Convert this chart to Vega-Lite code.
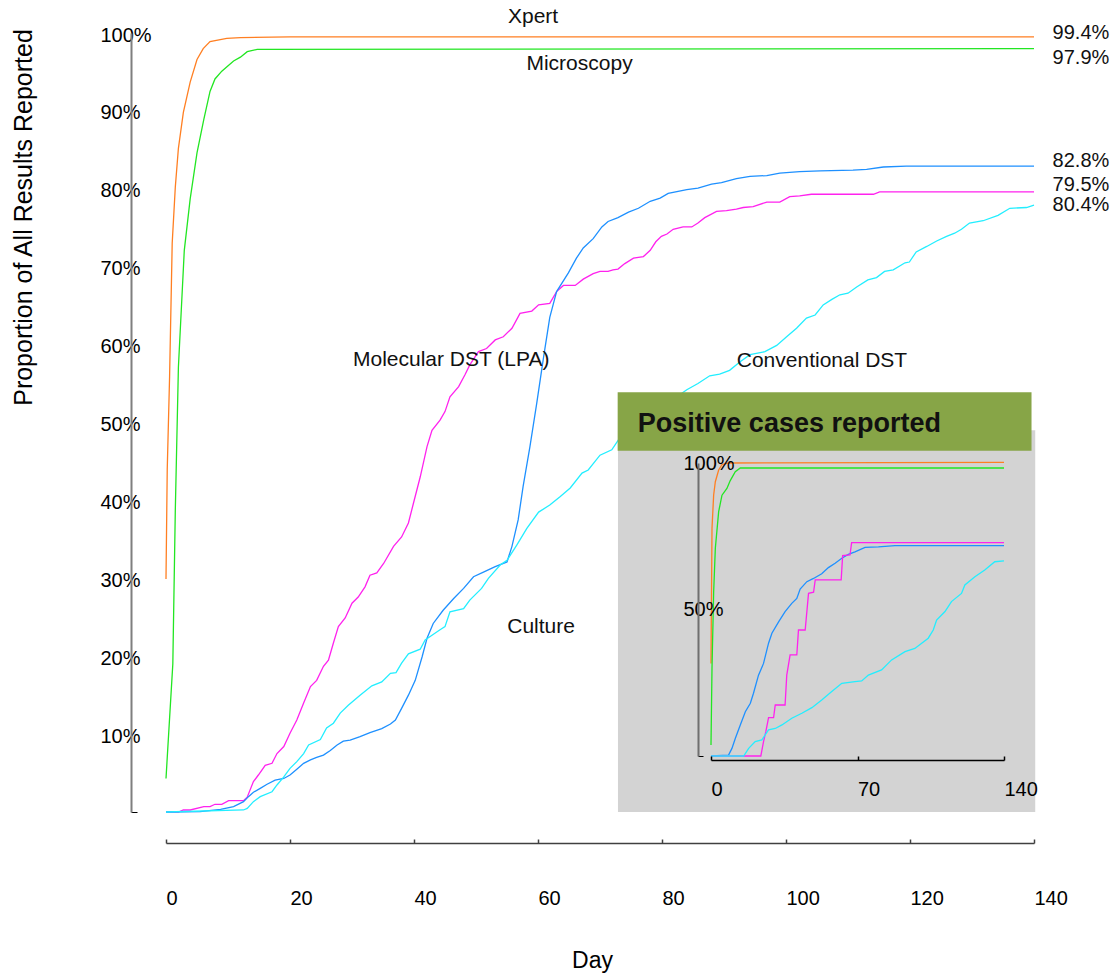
{
  "$schema": "https://vega.github.io/schema/vega-lite/v6.json",
  "width": 868,
  "height": 779,
  "autosize": {"type": "none"},
  "padding": {"left": 166, "top": 33, "right": 81, "bottom": 161},
  "background": "white",
  "config": {
    "view": {"stroke": null},
    "font": "Liberation Sans",
    "axis": {"grid": false, "labelFont": "Liberation Sans", "titleFont": "Liberation Sans", "labelColor": "#000", "titleColor": "#000", "labelFlush": false, "labelOverlap": false}
  },
  "datasets": {
    "main": [
      {"s":"Xpert","d":0,"v":0.299},{"s":"Xpert","d":0.2,"v":0.44},{"s":"Xpert","d":0.58,"v":0.559},{"s":"Xpert","d":1.0,"v":0.73},{"s":"Xpert","d":1.5,"v":0.802},{"s":"Xpert","d":2.0,"v":0.852},{"s":"Xpert","d":2.8,"v":0.898},{"s":"Xpert","d":3.9,"v":0.937},{"s":"Xpert","d":5.0,"v":0.966},{"s":"Xpert","d":6.0,"v":0.98},{"s":"Xpert","d":7.1,"v":0.989},{"s":"Xpert","d":9.8,"v":0.993},{"s":"Xpert","d":12,"v":0.994},{"s":"Xpert","d":20,"v":0.995},{"s":"Xpert","d":140,"v":0.995},
      {"s":"Microscopy","d":0,"v":0.043},{"s":"Microscopy","d":1.1,"v":0.19},{"s":"Microscopy","d":1.5,"v":0.387},{"s":"Microscopy","d":2.0,"v":0.571},{"s":"Microscopy","d":2.95,"v":0.721},{"s":"Microscopy","d":3.9,"v":0.787},{"s":"Microscopy","d":5.0,"v":0.846},{"s":"Microscopy","d":6.1,"v":0.889},{"s":"Microscopy","d":7.1,"v":0.925},{"s":"Microscopy","d":7.9,"v":0.941},{"s":"Microscopy","d":9.0,"v":0.951},{"s":"Microscopy","d":10.9,"v":0.964},{"s":"Microscopy","d":12.0,"v":0.969},{"s":"Microscopy","d":13.1,"v":0.976},{"s":"Microscopy","d":14.7,"v":0.979},{"s":"Microscopy","d":140,"v":0.98},
      {"s":"Molecular DST (LPA)","d":0,"v":0},{"s":"Molecular DST (LPA)","d":2.0,"v":0},{"s":"Molecular DST (LPA)","d":2.8,"v":0.0026},{"s":"Molecular DST (LPA)","d":3.9,"v":0.0026},{"s":"Molecular DST (LPA)","d":6.1,"v":0.0068},{"s":"Molecular DST (LPA)","d":7.1,"v":0.0068},{"s":"Molecular DST (LPA)","d":7.9,"v":0.0099},{"s":"Molecular DST (LPA)","d":9.0,"v":0.0099},{"s":"Molecular DST (LPA)","d":10.1,"v":0.0145},{"s":"Molecular DST (LPA)","d":12.5,"v":0.0145},{"s":"Molecular DST (LPA)","d":13.1,"v":0.019},{"s":"Molecular DST (LPA)","d":14.1,"v":0.039},{"s":"Molecular DST (LPA)","d":14.9,"v":0.0475},{"s":"Molecular DST (LPA)","d":16.0,"v":0.06},{"s":"Molecular DST (LPA)","d":17.1,"v":0.0625},{"s":"Molecular DST (LPA)","d":17.9,"v":0.075},{"s":"Molecular DST (LPA)","d":19.0,"v":0.084},{"s":"Molecular DST (LPA)","d":20.0,"v":0.101},{"s":"Molecular DST (LPA)","d":21.1,"v":0.118},{"s":"Molecular DST (LPA)","d":22.2,"v":0.14},{"s":"Molecular DST (LPA)","d":23.3,"v":0.161},{"s":"Molecular DST (LPA)","d":24.3,"v":0.169},{"s":"Molecular DST (LPA)","d":25.4,"v":0.187},{"s":"Molecular DST (LPA)","d":26.2,"v":0.195},{"s":"Molecular DST (LPA)","d":27.0,"v":0.217},{"s":"Molecular DST (LPA)","d":27.8,"v":0.238},{"s":"Molecular DST (LPA)","d":28.9,"v":0.249},{"s":"Molecular DST (LPA)","d":30.0,"v":0.268},{"s":"Molecular DST (LPA)","d":31.0,"v":0.276},{"s":"Molecular DST (LPA)","d":32.1,"v":0.289},{"s":"Molecular DST (LPA)","d":32.9,"v":0.304},{"s":"Molecular DST (LPA)","d":34.0,"v":0.307},{"s":"Molecular DST (LPA)","d":35.1,"v":0.319},{"s":"Molecular DST (LPA)","d":36.7,"v":0.341},{"s":"Molecular DST (LPA)","d":38.0,"v":0.353},{"s":"Molecular DST (LPA)","d":39.1,"v":0.371},{"s":"Molecular DST (LPA)","d":39.9,"v":0.396},{"s":"Molecular DST (LPA)","d":41.0,"v":0.43},{"s":"Molecular DST (LPA)","d":42.1,"v":0.469},{"s":"Molecular DST (LPA)","d":42.9,"v":0.49},{"s":"Molecular DST (LPA)","d":44.2,"v":0.503},{"s":"Molecular DST (LPA)","d":45.0,"v":0.514},{"s":"Molecular DST (LPA)","d":45.8,"v":0.533},{"s":"Molecular DST (LPA)","d":47.2,"v":0.546},{"s":"Molecular DST (LPA)","d":48.2,"v":0.561},{"s":"Molecular DST (LPA)","d":49.0,"v":0.574},{"s":"Molecular DST (LPA)","d":50.4,"v":0.591},{"s":"Molecular DST (LPA)","d":51.7,"v":0.595},{"s":"Molecular DST (LPA)","d":53.1,"v":0.606},{"s":"Molecular DST (LPA)","d":54.4,"v":0.61},{"s":"Molecular DST (LPA)","d":55.8,"v":0.621},{"s":"Molecular DST (LPA)","d":57.1,"v":0.64},{"s":"Molecular DST (LPA)","d":59.0,"v":0.643},{"s":"Molecular DST (LPA)","d":60.1,"v":0.651},{"s":"Molecular DST (LPA)","d":61.9,"v":0.653},{"s":"Molecular DST (LPA)","d":63.0,"v":0.668},{"s":"Molecular DST (LPA)","d":64.1,"v":0.676},{"s":"Molecular DST (LPA)","d":66.0,"v":0.676},{"s":"Molecular DST (LPA)","d":67.3,"v":0.684},{"s":"Molecular DST (LPA)","d":68.9,"v":0.691},{"s":"Molecular DST (LPA)","d":70.0,"v":0.694},{"s":"Molecular DST (LPA)","d":71.3,"v":0.694},{"s":"Molecular DST (LPA)","d":72.1,"v":0.696},{"s":"Molecular DST (LPA)","d":72.9,"v":0.697},{"s":"Molecular DST (LPA)","d":74.0,"v":0.704},{"s":"Molecular DST (LPA)","d":75.4,"v":0.711},{"s":"Molecular DST (LPA)","d":77.0,"v":0.713},{"s":"Molecular DST (LPA)","d":78.1,"v":0.721},{"s":"Molecular DST (LPA)","d":79.0,"v":0.732},{"s":"Molecular DST (LPA)","d":79.9,"v":0.739},{"s":"Molecular DST (LPA)","d":80.8,"v":0.742},{"s":"Molecular DST (LPA)","d":81.8,"v":0.748},{"s":"Molecular DST (LPA)","d":83.4,"v":0.751},{"s":"Molecular DST (LPA)","d":84.8,"v":0.751},{"s":"Molecular DST (LPA)","d":85.8,"v":0.756},{"s":"Molecular DST (LPA)","d":86.9,"v":0.763},{"s":"Molecular DST (LPA)","d":88.8,"v":0.771},{"s":"Molecular DST (LPA)","d":90.4,"v":0.772},{"s":"Molecular DST (LPA)","d":92.0,"v":0.774},{"s":"Molecular DST (LPA)","d":93.1,"v":0.776},{"s":"Molecular DST (LPA)","d":94.7,"v":0.777},{"s":"Molecular DST (LPA)","d":96.9,"v":0.783},{"s":"Molecular DST (LPA)","d":99.0,"v":0.783},{"s":"Molecular DST (LPA)","d":100.6,"v":0.79},{"s":"Molecular DST (LPA)","d":102.2,"v":0.791},{"s":"Molecular DST (LPA)","d":104.1,"v":0.793},{"s":"Molecular DST (LPA)","d":114.1,"v":0.793},{"s":"Molecular DST (LPA)","d":115.1,"v":0.796},{"s":"Molecular DST (LPA)","d":140,"v":0.796},
      {"s":"Culture","d":0,"v":0},{"s":"Culture","d":5.5,"v":0.0005},{"s":"Culture","d":8.8,"v":0.0034},{"s":"Culture","d":10.9,"v":0.0068},{"s":"Culture","d":12.5,"v":0.0133},{"s":"Culture","d":13.3,"v":0.0197},{"s":"Culture","d":14.1,"v":0.0253},{"s":"Culture","d":15.2,"v":0.0304},{"s":"Culture","d":16.3,"v":0.0356},{"s":"Culture","d":17.6,"v":0.041},{"s":"Culture","d":19.0,"v":0.043},{"s":"Culture","d":20.0,"v":0.0475},{"s":"Culture","d":21.1,"v":0.055},{"s":"Culture","d":22.2,"v":0.0625},{"s":"Culture","d":23.3,"v":0.0668},{"s":"Culture","d":24.3,"v":0.07},{"s":"Culture","d":25.4,"v":0.073},{"s":"Culture","d":26.5,"v":0.079},{"s":"Culture","d":27.6,"v":0.086},{"s":"Culture","d":28.6,"v":0.091},{"s":"Culture","d":29.7,"v":0.0924},{"s":"Culture","d":31.3,"v":0.0967},{"s":"Culture","d":32.9,"v":0.102},{"s":"Culture","d":34.8,"v":0.107},{"s":"Culture","d":36.2,"v":0.113},{"s":"Culture","d":37.0,"v":0.118},{"s":"Culture","d":38.0,"v":0.133},{"s":"Culture","d":39.1,"v":0.15},{"s":"Culture","d":40.2,"v":0.169},{"s":"Culture","d":41.3,"v":0.199},{"s":"Culture","d":42.1,"v":0.223},{"s":"Culture","d":43.1,"v":0.242},{"s":"Culture","d":44.7,"v":0.259},{"s":"Culture","d":46.4,"v":0.274},{"s":"Culture","d":48.0,"v":0.287},{"s":"Culture","d":49.6,"v":0.302},{"s":"Culture","d":51.2,"v":0.308},{"s":"Culture","d":53.1,"v":0.315},{"s":"Culture","d":55.0,"v":0.321},{"s":"Culture","d":55.8,"v":0.341},{"s":"Culture","d":56.8,"v":0.375},{"s":"Culture","d":57.6,"v":0.418},{"s":"Culture","d":58.7,"v":0.469},{"s":"Culture","d":59.8,"v":0.525},{"s":"Culture","d":60.9,"v":0.584},{"s":"Culture","d":61.9,"v":0.635},{"s":"Culture","d":63.0,"v":0.668},{"s":"Culture","d":64.9,"v":0.692},{"s":"Culture","d":66.2,"v":0.711},{"s":"Culture","d":67.3,"v":0.724},{"s":"Culture","d":68.9,"v":0.736},{"s":"Culture","d":70.3,"v":0.751},{"s":"Culture","d":71.3,"v":0.758},{"s":"Culture","d":72.9,"v":0.763},{"s":"Culture","d":74.6,"v":0.77},{"s":"Culture","d":76.2,"v":0.775},{"s":"Culture","d":78.1,"v":0.784},{"s":"Culture","d":79.7,"v":0.788},{"s":"Culture","d":81.0,"v":0.794},{"s":"Culture","d":84.0,"v":0.799},{"s":"Culture","d":85.8,"v":0.801},{"s":"Culture","d":88.0,"v":0.806},{"s":"Culture","d":89.6,"v":0.808},{"s":"Culture","d":92.0,"v":0.813},{"s":"Culture","d":94.2,"v":0.816},{"s":"Culture","d":96.9,"v":0.817},{"s":"Culture","d":99.0,"v":0.82},{"s":"Culture","d":102.2,"v":0.822},{"s":"Culture","d":105.5,"v":0.823},{"s":"Culture","d":110.8,"v":0.824},{"s":"Culture","d":113.0,"v":0.825},{"s":"Culture","d":115.7,"v":0.828},{"s":"Culture","d":119.4,"v":0.829},{"s":"Culture","d":140,"v":0.829},
      {"s":"Conventional DST","d":0,"v":0},{"s":"Conventional DST","d":12.5,"v":0.0026},{"s":"Conventional DST","d":13.1,"v":0.0047},{"s":"Conventional DST","d":14.1,"v":0.0133},{"s":"Conventional DST","d":15.2,"v":0.0197},{"s":"Conventional DST","d":17.1,"v":0.026},{"s":"Conventional DST","d":17.9,"v":0.0347},{"s":"Conventional DST","d":19.0,"v":0.045},{"s":"Conventional DST","d":20.0,"v":0.056},{"s":"Conventional DST","d":21.1,"v":0.0646},{"s":"Conventional DST","d":22.2,"v":0.075},{"s":"Conventional DST","d":23.0,"v":0.086},{"s":"Conventional DST","d":24.9,"v":0.093},{"s":"Conventional DST","d":25.9,"v":0.108},{"s":"Conventional DST","d":27.0,"v":0.114},{"s":"Conventional DST","d":28.1,"v":0.127},{"s":"Conventional DST","d":29.4,"v":0.137},{"s":"Conventional DST","d":31.3,"v":0.15},{"s":"Conventional DST","d":33.2,"v":0.162},{"s":"Conventional DST","d":34.8,"v":0.167},{"s":"Conventional DST","d":36.2,"v":0.178},{"s":"Conventional DST","d":37.1,"v":0.179},{"s":"Conventional DST","d":38.0,"v":0.191},{"s":"Conventional DST","d":39.1,"v":0.203},{"s":"Conventional DST","d":41.0,"v":0.209},{"s":"Conventional DST","d":41.8,"v":0.221},{"s":"Conventional DST","d":42.9,"v":0.227},{"s":"Conventional DST","d":44.2,"v":0.234},{"s":"Conventional DST","d":45.0,"v":0.238},{"s":"Conventional DST","d":45.8,"v":0.257},{"s":"Conventional DST","d":48.0,"v":0.261},{"s":"Conventional DST","d":49.0,"v":0.272},{"s":"Conventional DST","d":50.9,"v":0.287},{"s":"Conventional DST","d":52.0,"v":0.3},{"s":"Conventional DST","d":53.9,"v":0.317},{"s":"Conventional DST","d":55.0,"v":0.323},{"s":"Conventional DST","d":56.6,"v":0.343},{"s":"Conventional DST","d":58.2,"v":0.364},{"s":"Conventional DST","d":60.1,"v":0.385},{"s":"Conventional DST","d":61.9,"v":0.394},{"s":"Conventional DST","d":63.6,"v":0.405},{"s":"Conventional DST","d":65.2,"v":0.416},{"s":"Conventional DST","d":67.1,"v":0.435},{"s":"Conventional DST","d":68.1,"v":0.439},{"s":"Conventional DST","d":70.0,"v":0.458},{"s":"Conventional DST","d":71.9,"v":0.465},{"s":"Conventional DST","d":73.0,"v":0.478},{"s":"Conventional DST","d":73.6,"v":0.484},{"s":"Conventional DST","d":84.0,"v":0.542},{"s":"Conventional DST","d":85.8,"v":0.55},{"s":"Conventional DST","d":87.7,"v":0.56},{"s":"Conventional DST","d":89.3,"v":0.562},{"s":"Conventional DST","d":90.9,"v":0.567},{"s":"Conventional DST","d":92.6,"v":0.578},{"s":"Conventional DST","d":94.2,"v":0.587},{"s":"Conventional DST","d":96.6,"v":0.591},{"s":"Conventional DST","d":98.5,"v":0.599},{"s":"Conventional DST","d":100.1,"v":0.61},{"s":"Conventional DST","d":101.7,"v":0.621},{"s":"Conventional DST","d":103.3,"v":0.634},{"s":"Conventional DST","d":104.7,"v":0.638},{"s":"Conventional DST","d":106.0,"v":0.651},{"s":"Conventional DST","d":107.4,"v":0.658},{"s":"Conventional DST","d":108.7,"v":0.664},{"s":"Conventional DST","d":110.0,"v":0.666},{"s":"Conventional DST","d":111.4,"v":0.674},{"s":"Conventional DST","d":113.2,"v":0.683},{"s":"Conventional DST","d":114.6,"v":0.686},{"s":"Conventional DST","d":115.9,"v":0.694},{"s":"Conventional DST","d":117.3,"v":0.696},{"s":"Conventional DST","d":119.2,"v":0.705},{"s":"Conventional DST","d":119.9,"v":0.706},{"s":"Conventional DST","d":121.0,"v":0.719},{"s":"Conventional DST","d":122.7,"v":0.726},{"s":"Conventional DST","d":124.3,"v":0.733},{"s":"Conventional DST","d":125.9,"v":0.739},{"s":"Conventional DST","d":127.2,"v":0.743},{"s":"Conventional DST","d":128.3,"v":0.748},{"s":"Conventional DST","d":129.6,"v":0.756},{"s":"Conventional DST","d":131.8,"v":0.759},{"s":"Conventional DST","d":134.2,"v":0.766},{"s":"Conventional DST","d":136.1,"v":0.775},{"s":"Conventional DST","d":138.8,"v":0.776},{"s":"Conventional DST","d":140,"v":0.779}
    ],
    "inset": [
      {"s":"Xpert","d":0,"v":0.316},{"s":"Xpert","d":0.48,"v":0.777},{"s":"Xpert","d":1.27,"v":0.891},{"s":"Xpert","d":2.07,"v":0.936},{"s":"Xpert","d":3.66,"v":0.976},{"s":"Xpert","d":5.25,"v":0.995},{"s":"Xpert","d":8.4,"v":1.0},{"s":"Xpert","d":140,"v":1.002},
      {"s":"Microscopy","d":0,"v":0.0375},{"s":"Microscopy","d":0.48,"v":0.3},{"s":"Microscopy","d":1.27,"v":0.56},{"s":"Microscopy","d":2.07,"v":0.709},{"s":"Microscopy","d":3.66,"v":0.834},{"s":"Microscopy","d":5.25,"v":0.89},{"s":"Microscopy","d":7.6,"v":0.913},{"s":"Microscopy","d":9.2,"v":0.94},{"s":"Microscopy","d":11.6,"v":0.97},{"s":"Microscopy","d":14,"v":0.983},{"s":"Microscopy","d":140,"v":0.983},
      {"s":"Culture","d":0,"v":0},{"s":"Culture","d":8.4,"v":0.003},{"s":"Culture","d":10.0,"v":0.026},{"s":"Culture","d":11.6,"v":0.06},{"s":"Culture","d":14.0,"v":0.106},{"s":"Culture","d":16.4,"v":0.151},{"s":"Culture","d":18.8,"v":0.18},{"s":"Culture","d":20.3,"v":0.214},{"s":"Culture","d":22.7,"v":0.276},{"s":"Culture","d":25.1,"v":0.316},{"s":"Culture","d":27.5,"v":0.385},{"s":"Culture","d":29.1,"v":0.419},{"s":"Culture","d":32.3,"v":0.458},{"s":"Culture","d":35.4,"v":0.493},{"s":"Culture","d":38.6,"v":0.521},{"s":"Culture","d":41.0,"v":0.538},{"s":"Culture","d":42.6,"v":0.57},{"s":"Culture","d":45.8,"v":0.595},{"s":"Culture","d":49.0,"v":0.606},{"s":"Culture","d":52.9,"v":0.622},{"s":"Culture","d":56.1,"v":0.643},{"s":"Culture","d":59.3,"v":0.658},{"s":"Culture","d":62.5,"v":0.675},{"s":"Culture","d":65.6,"v":0.688},{"s":"Culture","d":68.8,"v":0.697},{"s":"Culture","d":73.6,"v":0.712},{"s":"Culture","d":80.0,"v":0.714},{"s":"Culture","d":87.9,"v":0.718},{"s":"Culture","d":140,"v":0.718},
      {"s":"Molecular DST (LPA)","d":0,"v":0},{"s":"Molecular DST (LPA)","d":23.8,"v":0},{"s":"Molecular DST (LPA)","d":25.1,"v":0.049},{"s":"Molecular DST (LPA)","d":26.2,"v":0.083},{"s":"Molecular DST (LPA)","d":27.5,"v":0.131},{"s":"Molecular DST (LPA)","d":29.9,"v":0.131},{"s":"Molecular DST (LPA)","d":30.7,"v":0.174},{"s":"Molecular DST (LPA)","d":35.4,"v":0.174},{"s":"Molecular DST (LPA)","d":36.2,"v":0.276},{"s":"Molecular DST (LPA)","d":37.8,"v":0.345},{"s":"Molecular DST (LPA)","d":41.0,"v":0.345},{"s":"Molecular DST (LPA)","d":41.8,"v":0.43},{"s":"Molecular DST (LPA)","d":45.0,"v":0.43},{"s":"Molecular DST (LPA)","d":46.6,"v":0.555},{"s":"Molecular DST (LPA)","d":49.0,"v":0.559},{"s":"Molecular DST (LPA)","d":49.8,"v":0.601},{"s":"Molecular DST (LPA)","d":62.2,"v":0.601},{"s":"Molecular DST (LPA)","d":62.9,"v":0.684},{"s":"Molecular DST (LPA)","d":66.4,"v":0.686},{"s":"Molecular DST (LPA)","d":67.2,"v":0.728},{"s":"Molecular DST (LPA)","d":140,"v":0.728},
      {"s":"Conventional DST","d":0,"v":0},{"s":"Conventional DST","d":15.6,"v":0},{"s":"Conventional DST","d":18.0,"v":0.026},{"s":"Conventional DST","d":21.1,"v":0.049},{"s":"Conventional DST","d":24.3,"v":0.055},{"s":"Conventional DST","d":27.5,"v":0.089},{"s":"Conventional DST","d":30.7,"v":0.094},{"s":"Conventional DST","d":33.9,"v":0.106},{"s":"Conventional DST","d":38.6,"v":0.129},{"s":"Conventional DST","d":43.4,"v":0.146},{"s":"Conventional DST","d":48.2,"v":0.165},{"s":"Conventional DST","d":52.9,"v":0.191},{"s":"Conventional DST","d":57.7,"v":0.22},{"s":"Conventional DST","d":62.5,"v":0.248},{"s":"Conventional DST","d":68.8,"v":0.254},{"s":"Conventional DST","d":72.0,"v":0.256},{"s":"Conventional DST","d":75.2,"v":0.276},{"s":"Conventional DST","d":81.5,"v":0.294},{"s":"Conventional DST","d":86.3,"v":0.328},{"s":"Conventional DST","d":92.7,"v":0.356},{"s":"Conventional DST","d":97.4,"v":0.367},{"s":"Conventional DST","d":103.8,"v":0.402},{"s":"Conventional DST","d":106.2,"v":0.43},{"s":"Conventional DST","d":107.8,"v":0.464},{"s":"Conventional DST","d":111.8,"v":0.493},{"s":"Conventional DST","d":114.9,"v":0.527},{"s":"Conventional DST","d":119.7,"v":0.555},{"s":"Conventional DST","d":121.3,"v":0.584},{"s":"Conventional DST","d":126.1,"v":0.612},{"s":"Conventional DST","d":130.8,"v":0.635},{"s":"Conventional DST","d":135.6,"v":0.663},{"s":"Conventional DST","d":140,"v":0.666}
    ],
    "labels": [
      {"t":"Xpert","d":59.2,"v":1.0205},
      {"t":"Microscopy","d":66.7,"v":0.96},
      {"t":"Molecular DST (LPA)","d":46.0,"v":0.58},
      {"t":"Culture","d":60.5,"v":0.238},
      {"t":"Conventional DST","d":105.8,"v":0.579}
    ],
    "endlabels": [
      {"t":"99.4%","d":143.0,"v":0.9994},
      {"t":"97.9%","d":143.0,"v":0.9683},
      {"t":"82.8%","d":143.0,"v":0.836},
      {"t":"79.5%","d":143.0,"v":0.8055},
      {"t":"80.4%","d":143.0,"v":0.7795}
    ],
    "boxes": [
      {"name":"panel","d":72.9,"d2":140.2,"v":0,"v2":0.49},
      {"name":"header","d":72.85,"d2":139.6,"v":0.4638,"v2":0.5388}
    ],
    "title": [
      {"t":"Positive cases reported","d":76.1,"v":0.4882}
    ]
  },
  "resolve": {"scale": {"x": "independent", "y": "independent"}},
  "layer": [
    {
      "encoding": {
        "x": {"field": "d", "type": "quantitative", "scale": {"domain": [0, 140], "nice": false, "zero": false},
          "axis": {"orient": "bottom", "offset": 31, "values": [0,20,40,60,80,100,120,140], "domainColor": "#404040", "domainWidth": 1.5, "tickColor": "#404040", "tickWidth": 1.5, "tickSize": -4, "labelAlign": "left", "labelBaseline": "middle", "labelPadding": 59, "labelFontSize": 20, "title": "Day", "titleFontSize": 23, "titleFontWeight": "normal", "titleX": 426, "titleY": 117, "titleAlign": "center", "titleBaseline": "middle"}},
        "y": {"field": "v", "type": "quantitative", "scale": {"domain": [0, 1], "nice": false, "zero": false},
          "axis": {"orient": "left", "offset": 35, "values": [0,0.1,0.2,0.3,0.4,0.5,0.6,0.7,0.8,0.9,1], "format": ".0%", "labelExpr": "datum.value == 0 ? '' : datum.label", "domainColor": "#7f7f7f", "domainWidth": 2, "tickColor": "#000", "tickWidth": 1, "tickSize": -6, "tickOpacity": {"condition": {"test": "datum.value == 0", "value": 1}, "value": 0}, "labelAlign": "left", "labelBaseline": "middle", "labelPadding": 37, "labelOffset": 2, "labelFontSize": 20, "title": "Proportion of All Results Reported", "titleFontSize": 25, "titleFontWeight": "normal", "titleAngle": -90, "titleX": -108, "titleY": 184, "titleAlign": "center", "titleBaseline": "middle"}}
      },
      "layer": [
        {
          "data": {"name": "main"},
          "mark": {"type": "line", "strokeWidth": 1.3},
          "encoding": {
            "color": {"field": "s", "type": "nominal", "scale": {"domain": ["Xpert","Microscopy","Molecular DST (LPA)","Culture","Conventional DST"], "range": ["#FF7F22","#22E622","#FF22EE","#1E90FF","#22EEFF"]}, "legend": null}
          }
        },
        {
          "data": {"name": "boxes"},
          "transform": [{"filter": "datum.name == 'panel'"}],
          "mark": {"type": "rect", "color": "#D3D3D3"},
          "encoding": {"x2": {"field": "d2"}, "y2": {"field": "v2"}}
        },
        {
          "data": {"name": "boxes"},
          "transform": [{"filter": "datum.name == 'header'"}],
          "mark": {"type": "rect", "color": "#87A547"},
          "encoding": {"x2": {"field": "d2"}, "y2": {"field": "v2"}}
        },
        {
          "data": {"name": "title"},
          "mark": {"type": "text", "font": "Liberation Sans", "fontWeight": "bold", "fontSize": 27, "align": "left", "baseline": "alphabetic", "color": "#111"},
          "encoding": {"text": {"field": "t"}}
        },
        {
          "data": {"name": "labels"},
          "mark": {"type": "text", "font": "Liberation Sans", "fontSize": 21, "align": "center", "baseline": "middle", "color": "#111"},
          "encoding": {"text": {"field": "t"}}
        },
        {
          "data": {"name": "endlabels"},
          "mark": {"type": "text", "font": "Liberation Sans", "fontSize": 20, "align": "left", "baseline": "middle", "color": "#111"},
          "encoding": {"text": {"field": "t"}}
        }
      ]
    },
    {
      "data": {"name": "inset"},
      "mark": {"type": "line", "strokeWidth": 1.3},
      "encoding": {
        "x": {"field": "d", "type": "quantitative", "scale": {"domain": [0, 140], "range": [545, 838], "nice": false, "zero": false},
          "axis": {"orient": "bottom", "offset": -52, "values": [0,70,140], "domainColor": "#000", "domainWidth": 1.5, "tickColor": "#000", "tickWidth": 1.5, "tickSize": -4, "labelAlign": "left", "labelBaseline": "middle", "labelPadding": 33, "labelFontSize": 20, "title": null, "zindex": 1}},
        "y": {"field": "v", "type": "quantitative", "scale": {"domain": [0, 1], "range": [723, 430], "nice": false, "zero": false},
          "axis": {"orient": "left", "offset": -532, "values": [0,0.5,1], "format": ".0%", "labelExpr": "datum.value == 0 ? '' : datum.label", "domainColor": "#6f6f6f", "domainWidth": 2, "tickColor": "#000", "tickSize": -5, "tickOpacity": {"condition": {"test": "datum.value == 0", "value": 1}, "value": 0}, "labelAlign": "left", "labelBaseline": "middle", "labelPadding": 20, "labelFontSize": 20, "title": null, "zindex": 1}},
        "color": {"field": "s", "type": "nominal", "legend": null}
      }
    }
  ]
}
